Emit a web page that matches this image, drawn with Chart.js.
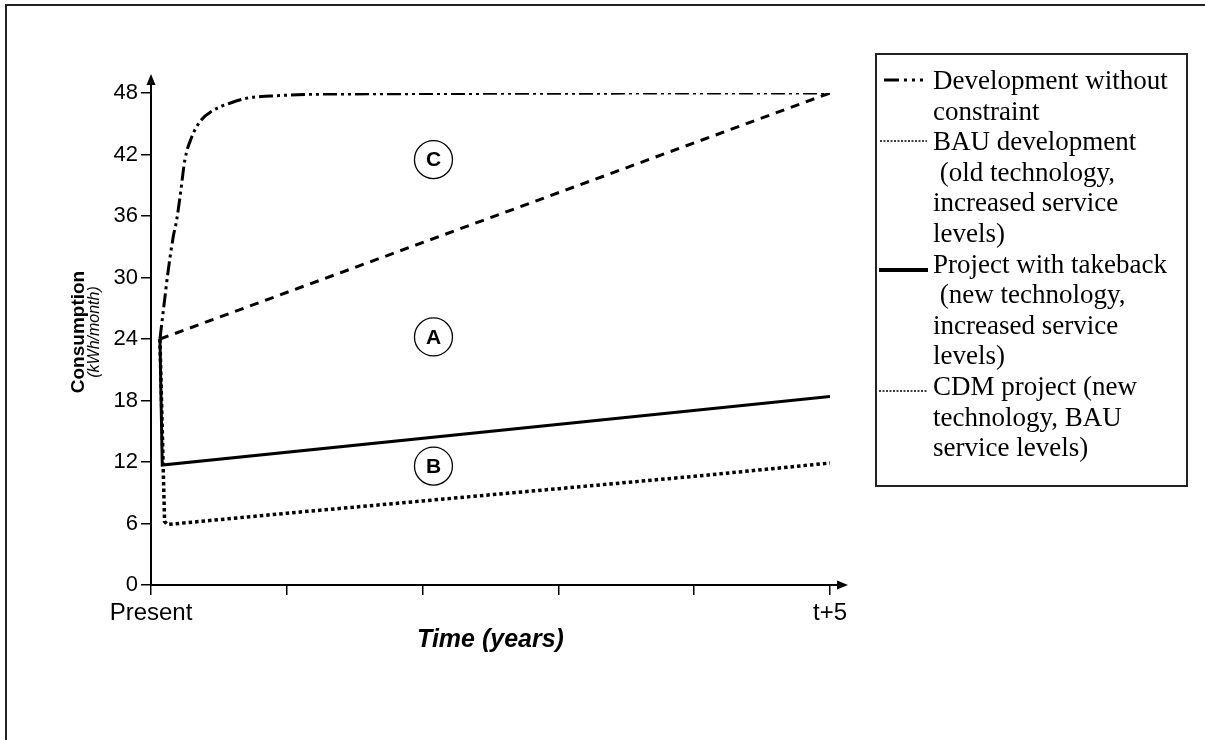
<!DOCTYPE html>
<html>
<head>
<meta charset="utf-8">
<script src="https://cdn.jsdelivr.net/npm/chart.js@4.4.0/dist/chart.umd.min.js"></script>
<style>
  html, body { margin: 0; padding: 0; background: #fff; overflow: hidden; }
  #wrap { position: relative; width: 1205px; height: 740px; }
  #frame { position: absolute; left: 5px; top: 4px; width: 1300px; height: 900px; border: 2px solid #222; }
  #chart { position: absolute; left: 0; top: 0; }
  #legend {
    position: absolute; left: 875px; top: 53px; width: 313px; height: 434px;
    border: 2px solid #222; box-sizing: border-box; padding-top: 10px;
    font-family: "Liberation Serif", "Times New Roman", serif; font-size: 27px; line-height: 30.6px; color: #000;
  }
  .item { position: relative; padding-left: 56px; white-space: pre; }
  .item svg { position: absolute; left: 0; top: 0; }
</style>
</head>
<body>
<div id="wrap">
  <div id="frame"></div>
  <canvas id="chart" width="1205" height="740"></canvas>
  <div id="legend"></div>
</div>
<script>
// tick labels
var xTickLabels = ['Present', '', '', '', '', 't+5'];

// series (x in years from present, y in kWh/month)
var devX = [0.066, 0.091, 0.127, 0.164, 0.189, 0.214, 0.25, 0.30, 0.36, 0.457, 0.58, 0.707, 0.876, 1.32, 5];
var devY = [24, 26.8, 30.7, 34.0, 35.6, 37.9, 41.5, 43.7, 45.2, 46.3, 47.0, 47.5, 47.7, 47.9, 48];
var bauX = [0.066, 5];
var bauY = [24, 48];
var takebackX = [0.066, 0.083, 5];
var takebackY = [24, 11.7, 18.4];
var cdmX = [0.066, 0.085, 0.10, 0.12, 1, 2, 3, 4, 5];
var cdmY = [24, 14, 6.2, 5.9, 7.0, 8.2, 9.4, 10.6, 11.9];

// region markers
var regionNames = ['C', 'A', 'B'];
var regionX = [2.08, 2.08, 2.08];
var regionY = [41.5, 24.2, 11.6];

var legendLines = [
    ['Development without', 'constraint'],
    ['BAU development', ' (old technology,', 'increased service', 'levels)'],
    ['Project with takeback', ' (new technology,', 'increased service', 'levels)'],
    ['CDM project (new', 'technology, BAU', 'service levels)']
];

function pts(xs, ys) {
    return xs.map(function (x, i) { return { x: x, y: ys[i] }; });
}

// legend box (html)
var samples = [
    '<line x1="7" y1="15" x2="22" y2="15" stroke="#000" stroke-width="3"/>' +
    '<line x1="27" y1="15" x2="50" y2="15" stroke="#000" stroke-width="3" stroke-dasharray="3,5"/>',
    '<line x1="3" y1="15" x2="50" y2="15" stroke="#000" stroke-width="1.3" stroke-dasharray="2,1.5"/>',
    '<line x1="2" y1="21" x2="51" y2="21" stroke="#000" stroke-width="4"/>',
    '<line x1="2" y1="20" x2="50" y2="20" stroke="#000" stroke-width="1.3" stroke-dasharray="2,1.5"/>'
];
var legendHtml = '';
legendLines.forEach(function (lines, i) {
    legendHtml += '<div class="item"><svg width="54" height="30">' + samples[i] + '</svg>' + lines.join('\n') + '</div>';
});
document.getElementById('legend').innerHTML = legendHtml;

var font = 'Liberation Sans, Arial, sans-serif';

var extras = {
    id: 'extras',
    afterDraw: function (chart) {
        var ctx = chart.ctx, a = chart.chartArea;
        var xs = chart.scales.x, ys = chart.scales.y;
        ctx.save();
        ctx.strokeStyle = '#000';
        ctx.fillStyle = '#000';
        ctx.lineWidth = 2;
        // y axis arrow
        ctx.beginPath();
        ctx.moveTo(a.left, a.top);
        ctx.lineTo(a.left, a.top - 10);
        ctx.stroke();
        ctx.beginPath();
        ctx.moveTo(a.left, a.top - 19);
        ctx.lineTo(a.left - 4.5, a.top - 8);
        ctx.lineTo(a.left + 4.5, a.top - 8);
        ctx.closePath();
        ctx.fill();
        // x axis arrow
        ctx.beginPath();
        ctx.moveTo(a.right, a.bottom);
        ctx.lineTo(a.right + 8, a.bottom);
        ctx.stroke();
        ctx.beginPath();
        ctx.moveTo(a.right + 18, a.bottom);
        ctx.lineTo(a.right + 7, a.bottom - 4.5);
        ctx.lineTo(a.right + 7, a.bottom + 4.5);
        ctx.closePath();
        ctx.fill();

        // circled region letters
        ctx.lineWidth = 1.3;
        ctx.textAlign = 'center';
        ctx.textBaseline = 'middle';
        ctx.font = 'bold 21px ' + font;
        regionNames.forEach(function (n, i) {
            var cx = xs.getPixelForValue(regionX[i]);
            var cy = ys.getPixelForValue(regionY[i]);
            ctx.fillStyle = '#fff';
            ctx.beginPath();
            ctx.arc(cx, cy, 19, 0, Math.PI * 2);
            ctx.fill();
            ctx.stroke();
            ctx.fillStyle = '#000';
            ctx.fillText(n, cx, cy + 1);
        });

        // y axis title, two styles
        ctx.save();
        ctx.translate(79, 332);
        ctx.rotate(-Math.PI / 2);
        ctx.font = 'bold 19px ' + font;
        ctx.fillText('Consumption', 0, 0);
        ctx.font = 'italic 16px ' + font;
        ctx.fillText('(kWh/month)', 0, 16);
        ctx.restore();
        ctx.restore();
    }
};

new Chart(document.getElementById('chart').getContext('2d'), {
    type: 'line',
    data: {
        datasets: [
            {
                label: 'Development without constraint',
                data: pts(devX, devY),
                borderColor: '#000', borderWidth: 3, borderDash: [14, 4, 3, 4, 3, 4],
                cubicInterpolationMode: 'monotone', pointRadius: 0
            },
            {
                label: 'BAU development (old technology, increased service levels)',
                data: pts(bauX, bauY),
                borderColor: '#000', borderWidth: 3, borderDash: [9, 7], pointRadius: 0
            },
            {
                label: 'Project with takeback (new technology, increased service levels)',
                data: pts(takebackX, takebackY),
                borderColor: '#000', borderWidth: 3, pointRadius: 0
            },
            {
                label: 'CDM project (new technology, BAU service levels)',
                data: pts(cdmX, cdmY),
                borderColor: '#000', borderWidth: 3.5, borderDash: [3.5, 3], pointRadius: 0
            }
        ]
    },
    options: {
        responsive: false,
        animation: false,
        layout: { padding: { left: 0, top: 93, right: 375, bottom: 85 } },
        plugins: { legend: { display: false }, tooltip: { enabled: false } },
        scales: {
            x: {
                type: 'linear', min: 0, max: 5,
                border: { display: true, color: '#000', width: 2 },
                grid: { drawOnChartArea: false, drawTicks: true, tickLength: 10, color: '#000', lineWidth: 1.5 },
                ticks: {
                    stepSize: 1, autoSkip: false, maxRotation: 0, color: '#000', padding: 4,
                    font: { family: font, size: 24 },
                    callback: function (v) { return xTickLabels[v] || ''; }
                },
                title: {
                    display: true, text: 'Time (years)', color: '#000', padding: { top: 2, bottom: 0 },
                    font: { family: font, size: 25, weight: 'bold', style: 'italic' }
                },
                afterFit: function (s) { s.height = 70; }
            },
            y: {
                min: 0, max: 48,
                border: { display: true, color: '#000', width: 2 },
                grid: { drawOnChartArea: false, drawTicks: true, tickLength: 10, color: '#000', lineWidth: 1.5 },
                ticks: { stepSize: 6, color: '#000', padding: 3, font: { family: font, size: 22 } },
                afterFit: function (s) { s.width = 151; }
            }
        }
    },
    plugins: [extras]
});
</script>
</body>
</html>
